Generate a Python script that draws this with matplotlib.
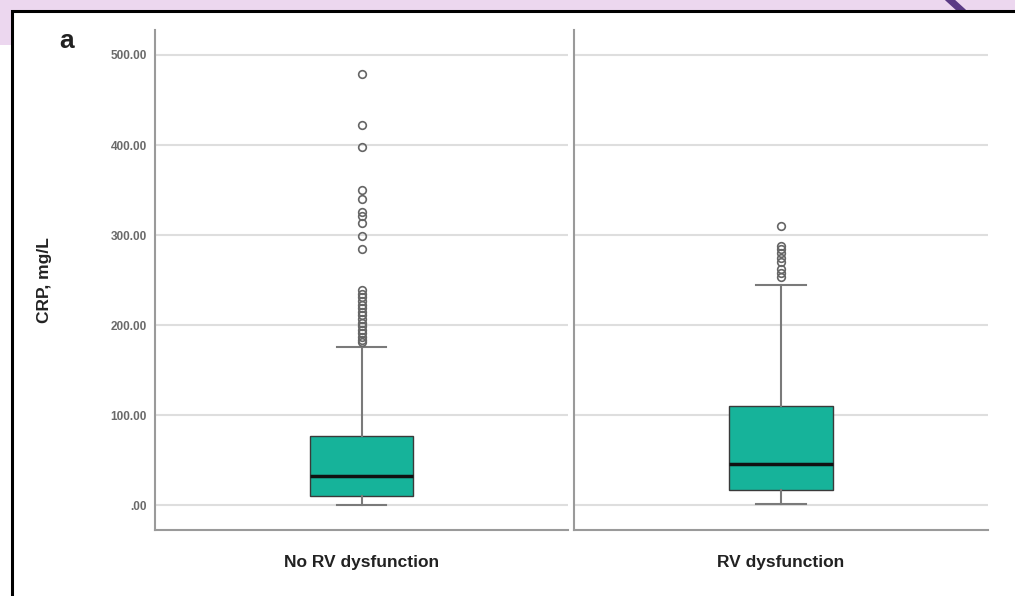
import matplotlib.pyplot as plt
from matplotlib.patches import Rectangle
from matplotlib.lines import Line2D

# values (CRP, mg/L)
groups = ["No RV dysfunction", "RV dysfunction"]
q1 = [10.3, 17.0]
median = [32.5, 45.5]
q3 = [76.8, 110.0]
whisker_low = [1.0, 2.0]
whisker_high = [175.5, 245.0]
outliers_no_rv = [479, 422, 398, 350, 340, 326, 321, 313, 299, 285,
                  239, 235, 231, 227, 223, 219, 215, 211, 207, 203,
                  199, 195, 191, 187, 184, 181]
outliers_rv = [310, 288, 285, 280, 275, 270, 263, 258, 254]
outliers = [outliers_no_rv, outliers_rv]
yticks = [0, 100, 200, 300, 400, 500]
ytick_labels = [".00", "100.00", "200.00", "300.00", "400.00", "500.00"]

W, H = 1015, 596
fig = plt.figure(figsize=(W / 100, H / 100), dpi=100)
plt.rcParams['font.family'] = ['Liberation Sans', 'DejaVu Sans']

# page background: lavender band with a framed white panel
fig.patches.append(Rectangle((0, 1 - 45 / H), 1, 45 / H, transform=fig.transFigure,
                             facecolor="#ecd7ef", edgecolor="none", zorder=-3))
fig.lines.append(Line2D([950 / W, 961 / W], [1.0, 1 - 10 / H], transform=fig.transFigure,
                        color="#5a3a85", linewidth=5, zorder=-2.5))
fig.patches.append(Rectangle((11.5 / W, -0.05), 1.1, 1.05 - 11.5 / H, transform=fig.transFigure,
                             facecolor="white", edgecolor="black", linewidth=2.2, zorder=-2))

panels = [(155, 568), (574, 988)]
for i, (x0, x1) in enumerate(panels):
    ax = fig.add_axes([x0 / W, 1 - 530 / H, (x1 - x0) / W, 500 / H])
    ax.set_facecolor("none")
    stats = [{"q1": q1[i], "med": median[i], "q3": q3[i],
              "whislo": whisker_low[i], "whishi": whisker_high[i],
              "fliers": outliers[i]}]
    ax.bxp(stats, positions=[0], widths=0.25, capwidths=0.12, patch_artist=True,
           boxprops=dict(facecolor="#16b39a", edgecolor="#3a3a3a", linewidth=1.0),
           medianprops=dict(color="#111111", linewidth=2.5),
           whiskerprops=dict(color="#7a7a7a", linewidth=1.5),
           capprops=dict(color="#7a7a7a", linewidth=1.5),
           flierprops=dict(marker="o", markerfacecolor="none", markeredgecolor="#666666",
                           markersize=5.5, markeredgewidth=1.2))
    ax.set_xlim(-0.5, 0.5)
    ax.set_ylim(-27.2, 527.7)
    ax.set_yticks(yticks)
    ax.grid(axis="y", color="#dedede", linewidth=1.5)
    ax.set_axisbelow(True)
    ax.set_xticks([0])
    ax.set_xticklabels([groups[i]], fontsize=12.5, fontweight="bold", color="#222222")
    ax.tick_params(axis="x", length=0, pad=18)
    for side in ["top", "right"]:
        ax.spines[side].set_visible(False)
    for side in ["left", "bottom"]:
        ax.spines[side].set_color("#9a9a9a")
        ax.spines[side].set_linewidth(1.5)
    if i == 0:
        ax.set_yticklabels(ytick_labels, fontsize=8.5, fontweight="bold", color="#6a6a6a")
        ax.tick_params(axis="y", length=0, pad=6)
        ax.set_ylabel("CRP, mg/L", fontsize=12.5, fontweight="bold", color="#222222", labelpad=42)
    else:
        ax.tick_params(axis="y", length=0, labelleft=False)

fig.text(59 / W, 1 - 48 / H, "a", fontsize=19, fontweight="bold", color="#222222",
         ha="left", va="baseline")

fig.savefig("out.png", dpi=100)
